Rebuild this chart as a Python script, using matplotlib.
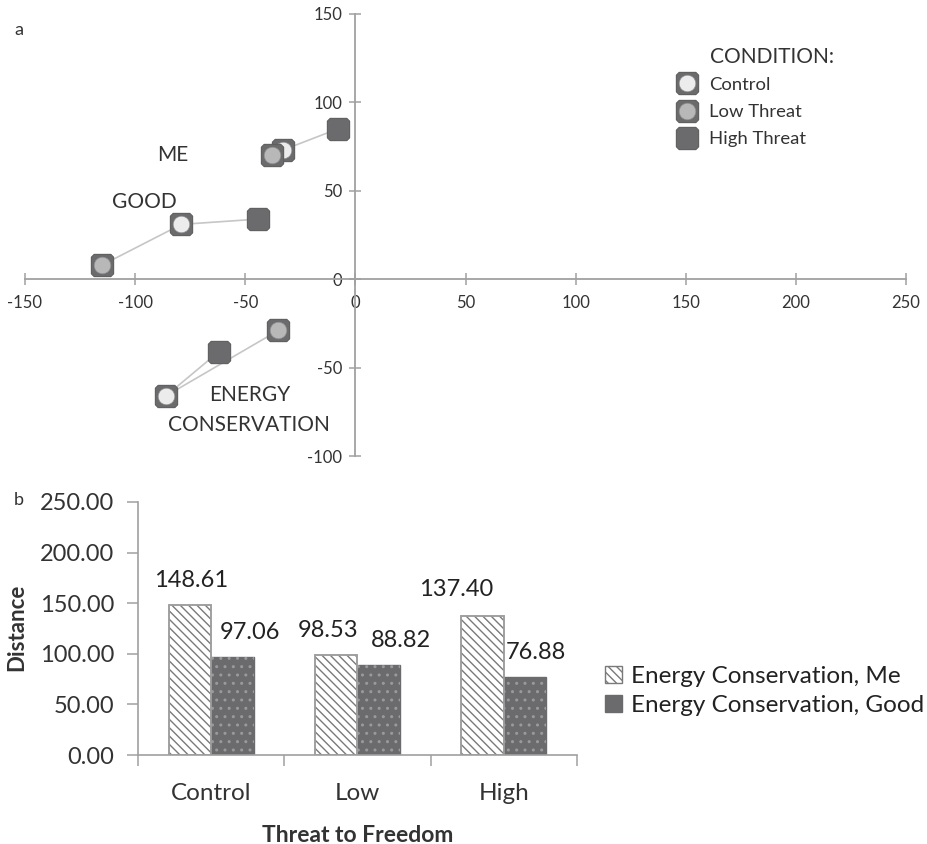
import matplotlib
matplotlib.use('Agg')
import matplotlib.pyplot as plt
from matplotlib.lines import Line2D
from matplotlib.patches import Patch
from matplotlib.legend_handler import HandlerTuple

plt.rcParams['font.family'] = ['Lato', 'DejaVu Sans']
plt.rcParams['axes.unicode_minus'] = False

# panel a: positions of each concept, order = Control, Low Threat, High Threat
conditions = ['Control', 'Low Threat', 'High Threat']
me_x = [-33, -38, -8]
me_y = [73, 70, 85]
good_x = [-79, -115, -44]
good_y = [31, 8, 34]
energy_x = [-86, -35, -62]
energy_y = [-66, -29, -41]
xticks_a = [-150, -100, -50, 0, 50, 100, 150, 200, 250]
yticks_a = [-100, -50, 0, 50, 100, 150]

# panel b: distances
groups = ['Control', 'Low', 'High']
dist_me = [148.61, 98.53, 137.40]
dist_good = [97.06, 88.82, 76.88]
yticks_b = [0, 50, 100, 150, 200, 250]

DARK = '#6b6b6d'
AXC = '#a0a0a0'
TXT = '#333333'
inner = ['#ececec', '#b8b8b8', DARK]
# rounded square marker
rsq = [(-1, -0.75), (-0.75, -1), (0.75, -1), (1, -0.75),
       (1, 0.75), (0.75, 1), (-0.75, 1), (-1, 0.75), (-1, -0.75)]

W, H = 927, 844
fig = plt.figure(figsize=(W / 100, H / 100), dpi=100)

# ---------------- panel a ----------------
ax = fig.add_axes([25 / W, 1 - 456 / H, 881 / W, 442 / H])
ax.set_xlim(-150, 250)
ax.set_ylim(-100, 150)
for s in ['top', 'right']:
    ax.spines[s].set_visible(False)
ax.spines['left'].set_position(('data', 0))
ax.spines['bottom'].set_position(('data', 0))
for s in ['left', 'bottom']:
    ax.spines[s].set_color(AXC)
    ax.spines[s].set_linewidth(1.3)
ax.set_xticks(xticks_a)
ax.set_yticks(yticks_a)
ax.tick_params(direction='inout', length=9, width=1.1, color=AXC,
               labelsize=12, labelcolor=TXT)
ax.tick_params(axis='x', pad=7)
ax.tick_params(axis='y', pad=5)

for xs, ys in [(me_x, me_y), (good_x, good_y), (energy_x, energy_y)]:
    for j in [1, 2]:
        ax.plot([xs[0], xs[j]], [ys[0], ys[j]], color='#c6c6c6', lw=1.2, zorder=2)

for xs, ys in [(me_x, me_y), (good_x, good_y), (energy_x, energy_y)]:
    for i in range(3):
        ax.plot(xs[i], ys[i], marker=rsq, ls='none', ms=16, mfc=DARK, mec='#5e5e5e',
                mew=0.8, zorder=3)
        ax.plot(xs[i], ys[i], 'o', ms=12, mfc=inner[i], mec='#8a8a8a',
                mew=0.5 if i < 2 else 0, zorder=3)

ax.text(-83, 70, 'ME', fontsize=15, color=TXT, ha='center', va='center')
ax.text(-96, 43.5, 'GOOD', fontsize=15, color=TXT, ha='center', va='center')
ax.text(-48, -65.5, 'ENERGY', fontsize=15, color=TXT, ha='center', va='center')
ax.text(-48.5, -82.5, 'CONSERVATION', fontsize=15, color=TXT, ha='center', va='center')
ax.text(189, 125.5, 'CONDITION:', fontsize=15, color=TXT, ha='center', va='center')

handles = []
for i in range(3):
    sq = Line2D([], [], ls='none', marker=rsq, ms=16, mfc=DARK, mec='#5e5e5e', mew=0.8)
    ci = Line2D([], [], ls='none', marker='o', ms=12, mfc=inner[i], mec='#8a8a8a',
                mew=0.5 if i < 2 else 0)
    handles.append((sq, ci))
leg = fig.legend(handles, conditions, loc='center left',
                 bbox_to_anchor=(676 / W, 1 - 112 / H), frameon=False,
                 handler_map={tuple: HandlerTuple(ndivide=1, pad=0)},
                 handlelength=1.2, handletextpad=0.6, labelspacing=0.6,
                 borderpad=0, borderaxespad=0, prop={'size': 13.3})
for t in leg.get_texts():
    t.set_color(TXT)

fig.text(14 / W, 1 - 30 / H, 'a', fontsize=13, color=TXT, va='center')

# ---------------- panel b ----------------
bx = fig.add_axes([138 / W, 1 - 755 / H, 439 / W, 253 / H])
pos = list(range(len(groups)))
bw = 0.29
xm = [p - bw / 2 for p in pos]
xg = [p + bw / 2 for p in pos]
bx.bar(xm, dist_me, bw, color='white', edgecolor=AXC, lw=1.2, zorder=2)
bx.bar(xm, dist_me, bw, color='none', edgecolor='#7a7a7a', hatch='\\\\\\\\', lw=0, zorder=3)
bx.bar(xm, dist_me, bw, color='none', edgecolor=AXC, lw=1.2, zorder=4)
bx.bar(xg, dist_good, bw, color=DARK, edgecolor=DARK, lw=1, zorder=2)
bx.bar(xg, dist_good, bw, color='none', edgecolor='#9a9a9c', hatch='..', lw=0, zorder=3)

# label offsets in pixels (dx, dy above bar top)
off_me = [(1, 24), (-8, 25), (-26, 26)]
off_good = [(18, 24), (22, 25), (11, 25)]
for i in pos:
    bx.annotate(f'{dist_me[i]:.2f}', (xm[i], dist_me[i]),
                xytext=(off_me[i][0] * 0.72, off_me[i][1] * 0.72), textcoords='offset points',
                ha='center', va='center', fontsize=17, color='#222222')
    bx.annotate(f'{dist_good[i]:.2f}', (xg[i], dist_good[i]),
                xytext=(off_good[i][0] * 0.72, off_good[i][1] * 0.72), textcoords='offset points',
                ha='center', va='center', fontsize=17, color='#222222')

bx.set_xlim(-0.5, 2.5)
bx.set_ylim(0, 250)
bx.set_yticks(yticks_b)
bx.set_yticklabels([f'{v:.2f}' for v in yticks_b])
bx.set_xticks(pos)
bx.set_xticklabels(groups)
bx.set_xticks([-0.5, 0.5, 1.5, 2.5], minor=True)
bx.tick_params(axis='x', which='major', length=0, pad=20, labelsize=17.5, labelcolor=TXT)
bx.tick_params(axis='x', which='minor', length=8, width=1.1, color=AXC, direction='out')
bx.tick_params(axis='y', length=8, width=1.1, color=AXC, direction='out', pad=9,
               labelsize=17, labelcolor=TXT)
for s in ['top', 'right']:
    bx.spines[s].set_visible(False)
for s in ['left', 'bottom']:
    bx.spines[s].set_color(AXC)
    bx.spines[s].set_linewidth(1.2)
bx.set_xlabel('Threat to Freedom', fontsize=16.5, fontweight='bold', color=TXT, labelpad=15)
fig.text(17 / W, 1 - 627 / H, 'Distance', fontsize=16, fontweight='bold', color=TXT,
         rotation=90, ha='center', va='center')

h_me = Patch(facecolor='white', edgecolor='#7a7a7a', hatch='\\\\\\\\', lw=1)
h_good = Patch(facecolor=DARK, edgecolor=DARK, lw=1)
leg2 = fig.legend([h_me, h_good], ['Energy Conservation, Me', 'Energy Conservation, Good'],
                  loc='center left', bbox_to_anchor=(605 / W, 1 - 691 / H), frameon=False,
                  handlelength=0.7, handleheight=0.7, handletextpad=0.35, labelspacing=0.35,
                  borderpad=0, borderaxespad=0, prop={'size': 17.5})
for t in leg2.get_texts():
    t.set_color('#222222')

fig.text(14 / W, 1 - 500 / H, 'b', fontsize=13, color=TXT, va='center')

fig.savefig('out.png', dpi=100)
